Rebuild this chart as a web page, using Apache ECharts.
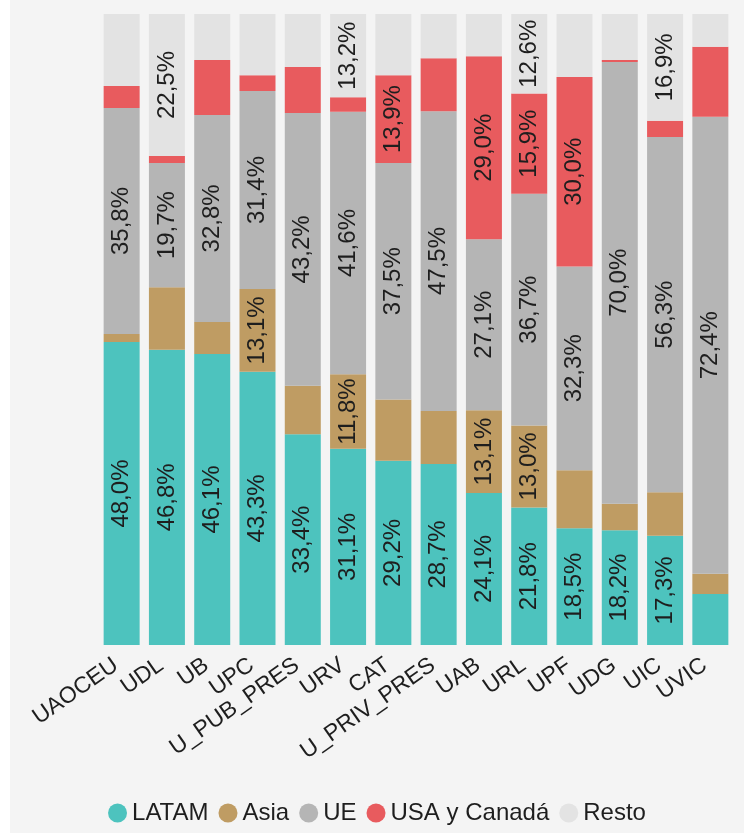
<!DOCTYPE html>
<html>
<head>
<meta charset="utf-8">
<script src="https://cdn.jsdelivr.net/npm/echarts@6/dist/echarts.min.js"></script>
<style>
html,body{margin:0;padding:0;background:#ffffff;}
#c{position:absolute;left:10px;top:0;width:734px;height:833px;background:#f4f4f4;}
</style>
</head>
<body>
<div id="c"></div>
<script>
var categories = ['UAOCEU','UDL','UB','UPC','U_PUB_PRES','URV','CAT','U_PRIV_PRES','UAB','URL','UPF','UDG','UIC','UVIC'];
var latam = [48.0,46.8,46.1,43.3,33.4,31.1,29.2,28.7,24.1,21.8,18.5,18.2,17.3,8.1];
var asia  = [1.3,9.9,5.1,13.1,7.7,11.8,9.7,8.4,13.1,13.0,9.2,4.2,6.9,3.2];
var ue    = [35.8,19.7,32.8,31.4,43.2,41.6,37.5,47.5,27.1,36.7,32.3,70.0,56.3,72.4];
var usa   = [3.5,1.1,8.7,2.5,7.3,2.3,13.9,8.4,29.0,15.9,30.0,0.3,2.6,11.1];
var resto = [11.4,22.5,7.3,9.7,8.4,13.2,9.7,7.0,6.7,12.6,10.0,7.3,16.9,5.2];

var seriesNames = ['LATAM','Asia','UE','USA y Canadá','Resto'];
var seriesData = [latam, asia, ue, usa, resto];
var colors = ['#4dc3be','#bf9c63','#b5b5b5','#e85b5e','#e3e3e3'];

var FONT = '"Liberation Sans", Arial, sans-serif';
var chart = echarts.init(document.getElementById('c'));

var series = seriesNames.map(function(n, i){
  return {
    name: n,
    type: 'bar',
    stack: 'total',
    barWidth: 36,
    data: seriesData[i],
    itemStyle: {color: colors[i]},
    label: {
      show: true,
      position: 'inside',
      rotate: 90,
      color: '#1e1e1e',
      fontSize: 24,
      fontFamily: FONT,
      formatter: function(p){
        return p.value >= 11.5 ? p.value.toFixed(1).replace('.', ',') + '%' : '';
      }
    }
  };
});

chart.setOption({
  animation: false,
  backgroundColor: '#f4f4f4',
  color: colors,
  grid: {left: 89, right: 11, top: 14, bottom: 188},
  legend: {
    bottom: 3,
    left: 'center',
    icon: 'circle',
    itemWidth: 19,
    itemHeight: 19,
    itemGap: 10,
    textStyle: {fontSize: 24, color: '#1e1e1e', fontFamily: FONT}
  },
  xAxis: {
    type: 'category',
    data: categories,
    axisLine: {show: false},
    axisTick: {show: false},
    axisLabel: {rotate: 35, fontSize: 23, color: '#1e1e1e', fontFamily: FONT, margin: 14, padding: [0, 7, 0, 0], interval: 0}
  },
  yAxis: {type: 'value', min: 0, max: 100, show: false},
  series: series
});
</script>
</body>
</html>
